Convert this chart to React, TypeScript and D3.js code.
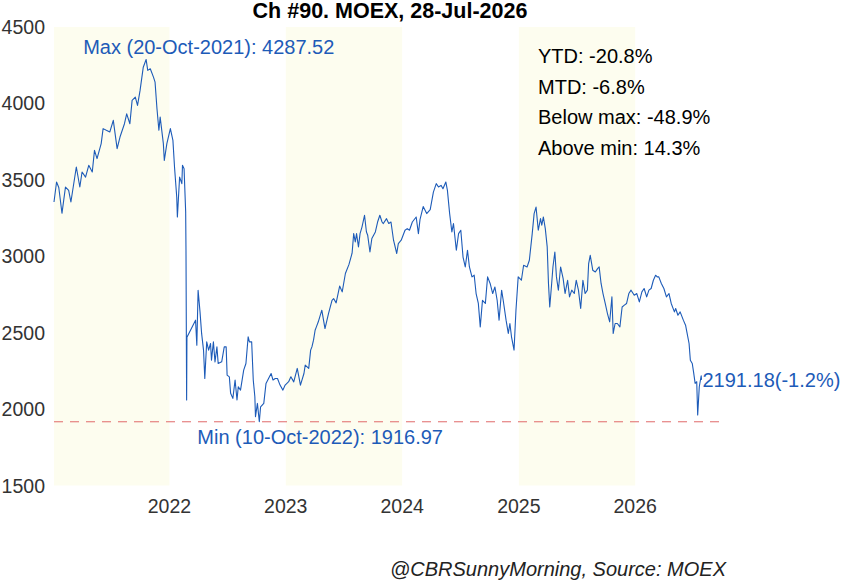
import React from "react";
import * as d3 from "d3";

const W = 841;
const H = 583;

const title = "Ch #90. MOEX, 28-Jul-2026";
const source = "@CBRSunnyMorning, Source: MOEX";
const statsLines = ["YTD: -20.8%", "MTD: -6.8%", "Below max: -48.9%", "Above min: 14.3%"];
const yTicks = [1500, 2000, 2500, 3000, 3500, 4000, 4500];
const xTickYears = [2022, 2023, 2024, 2025, 2026];
const shadedYears = [2021, 2023, 2025];

const maxDate = "2021-10-20";
const maxValue = 4287.52;
const minDate = "2022-10-10";
const minValue = 1916.97;
const lastChangePct = -1.2;

const dates = [
  "2021-01-04","2021-01-12","2021-01-19","2021-01-29","2021-02-09","2021-02-19","2021-02-26","2021-03-15","2021-03-26","2021-04-02",
  "2021-04-13","2021-04-23","2021-05-04","2021-05-11","2021-05-19","2021-06-01","2021-06-07","2021-06-17","2021-06-28","2021-07-09",
  "2021-07-21","2021-07-30","2021-08-13","2021-08-20","2021-08-30","2021-09-06","2021-09-16","2021-09-23","2021-10-01","2021-10-11",
  "2021-10-20","2021-10-25","2021-11-02","2021-11-12","2021-11-17","2021-11-23","2021-11-29","2021-12-03","2021-12-13","2021-12-16",
  "2021-12-24","2022-01-04","2022-01-12","2022-01-17","2022-01-24","2022-01-26","2022-02-02","2022-02-09","2022-02-11","2022-02-16",
  "2022-02-21","2022-02-22","2022-02-24","2022-02-25","2022-03-24","2022-03-28","2022-04-01","2022-04-07","2022-04-12","2022-04-18",
  "2022-04-22","2022-04-28","2022-05-04","2022-05-10","2022-05-13","2022-05-19","2022-05-24","2022-05-30","2022-06-03","2022-06-14",
  "2022-06-22","2022-06-28","2022-07-01","2022-07-08","2022-07-12","2022-07-19","2022-07-26","2022-08-01","2022-08-05","2022-08-12",
  "2022-08-22","2022-08-29","2022-09-05","2022-09-09","2022-09-16","2022-09-21","2022-09-26","2022-09-28","2022-10-04","2022-10-10",
  "2022-10-14","2022-10-24","2022-10-31","2022-11-08","2022-11-16","2022-11-22","2022-11-29","2022-12-06","2022-12-14","2022-12-23",
  "2022-12-30","2023-01-10","2023-01-17","2023-01-26","2023-02-06","2023-02-16","2023-02-27","2023-03-03","2023-03-14","2023-03-20",
  "2023-03-24","2023-03-29","2023-04-03","2023-04-07","2023-04-13","2023-04-24","2023-05-04","2023-05-15","2023-05-26","2023-05-31",
  "2023-06-08","2023-06-19","2023-06-27","2023-07-07","2023-07-18","2023-07-28","2023-08-02","2023-08-07","2023-08-11","2023-08-17",
  "2023-08-22","2023-08-28","2023-09-05","2023-09-11","2023-09-15","2023-09-22","2023-09-28","2023-10-09","2023-10-16","2023-10-23",
  "2023-10-30","2023-11-03","2023-11-13","2023-11-20","2023-11-27","2023-12-05","2023-12-15","2023-12-20","2023-12-29","2024-01-10",
  "2024-01-17","2024-01-24","2024-02-02","2024-02-14","2024-02-21","2024-02-26","2024-03-07","2024-03-18","2024-03-29","2024-04-08",
  "2024-04-17","2024-04-24","2024-05-02","2024-05-08","2024-05-17","2024-05-22","2024-05-29","2024-06-05","2024-06-10","2024-06-19",
  "2024-06-26","2024-07-03","2024-07-10","2024-07-17","2024-07-24","2024-07-30","2024-08-07","2024-08-14","2024-08-20","2024-08-27",
  "2024-09-02","2024-09-09","2024-09-18","2024-09-25","2024-10-03","2024-10-11","2024-10-18","2024-10-25","2024-10-31","2024-11-08",
  "2024-11-13","2024-11-22","2024-11-29","2024-12-04","2024-12-09","2024-12-17","2024-12-23","2024-12-30","2025-01-09","2025-01-16",
  "2025-01-27","2025-02-03","2025-02-12","2025-02-18","2025-02-24","2025-03-03","2025-03-10","2025-03-14","2025-03-19","2025-03-25",
  "2025-03-31","2025-04-04","2025-04-08","2025-04-14","2025-04-18","2025-04-24","2025-04-29","2025-05-05","2025-05-12","2025-05-20",
  "2025-05-26","2025-06-03","2025-06-09","2025-06-16","2025-06-24","2025-06-30","2025-07-07","2025-07-14","2025-07-21","2025-07-28",
  "2025-08-04","2025-08-08","2025-08-13","2025-08-21","2025-08-29","2025-09-05","2025-09-10","2025-09-16","2025-09-22","2025-09-29",
  "2025-10-06","2025-10-13","2025-10-20","2025-10-24","2025-10-30","2025-11-06","2025-11-14","2025-11-21","2025-11-28","2025-12-05",
  "2025-12-12","2025-12-19","2025-12-29","2026-01-06","2026-01-14","2026-01-22","2026-01-29","2026-02-06","2026-02-13","2026-02-20",
  "2026-02-27","2026-03-06","2026-03-11","2026-03-16","2026-03-24","2026-04-01","2026-04-09","2026-04-17","2026-04-24","2026-05-04",
  "2026-05-08","2026-05-15","2026-05-22","2026-06-01","2026-06-08","2026-06-12","2026-06-19","2026-06-23","2026-06-29","2026-07-03",
  "2026-07-08","2026-07-13","2026-07-16","2026-07-21","2026-07-27","2026-07-28"
];

const values = [
  3355,3486,3450,3281,3453,3431,3355,3584,3453,3551,
  3518,3595,3551,3693,3639,3737,3835,3824,3813,3889,
  3704,3780,3867,3932,3867,4020,4041,3987,4085,4237,
  4287.52,4216,4227,4172,4139,3965,3824,3910,3737,3627,
  3737,3835,3758,3584,3388,3257,3518,3475,3595,3573,
  3290,3039,2059,2470,2582,2418,2778,2636,2495,2386,
  2200,2440,2386,2429,2320,2440,2309,2407,2298,2309,
  2407,2407,2222,2211,2103,2070,2190,2059,2146,2124,
  2255,2298,2473,2440,2440,2190,2081,1950,2037,1916.97,
  2015,2037,2168,2200,2233,2190,2200,2200,2157,2124,
  2157,2179,2211,2178,2266,2157,2233,2288,2266,2386,
  2407,2451,2516,2538,2571,2647,2527,2625,2712,2723,
  2695,2805,2767,2887,2945,3020,3148,3094,3148,3061,
  3148,3191,3268,3159,3137,3028,3116,3159,3224,3268,
  3224,3214,3246,3214,3224,3105,3018,3083,3105,3170,
  3181,3170,3224,3257,3148,3240,3325,3279,3305,3420,
  3475,3453,3464,3442,3486,3431,3279,3159,3214,3039,
  3148,3170,2995,2930,3039,2930,2865,2876,2756,2691,
  2538,2712,2691,2865,2822,2756,2799,2712,2582,2778,
  2712,2582,2495,2560,2473,2386,2647,2865,2843,2941,
  2930,2974,3148,3279,3322,3170,3246,3203,3257,3181,
  3061,2822,2668,2822,2930,3028,2865,2778,2930,2854,
  2756,2843,2734,2778,2756,2843,2778,2658,2843,2756,
  2778,2952,3006,2908,2897,2919,2930,2822,2756,2691,
  2625,2571,2734,2495,2560,2560,2538,2668,2680,2691,
  2756,2778,2745,2756,2701,2767,2789,2734,2778,2789,
  2843,2876,2865,2865,2822,2789,2734,2756,2691,2636,
  2658,2614,2636,2582,2549,2505,2429,2320,2298,2244,
  2168,2179,1961,2146,2218,2191.18
];

const FONT = "'Liberation Sans', Arial, Helvetica, sans-serif";
const BLUE = "#1d5bb8";

export default function App() {
  const parse = d3.utcParse("%Y-%m-%d");
  const data = dates.map((d, i) => ({ date: parse(d) as Date, value: values[i] }));

  const x = d3
    .scaleUtc()
    .domain([parse("2021-01-04") as Date, parse("2026-09-24") as Date])
    .range([54, 720]);
  const y = d3.scaleLinear().domain([1500, 4500]).range([485.5, 27]);

  const line = d3
    .line<{ date: Date; value: number }>()
    .x((d) => x(d.date))
    .y((d) => y(d.value));

  const last = data[data.length - 1];
  const mx = x(parse(maxDate) as Date);
  const my = y(maxValue);
  const mnx = x(parse(minDate) as Date);
  const mny = y(minValue);

  const [x0, x1] = x.range();

  return (
    <svg
      width={W}
      height={H}
      style={{ position: "absolute", left: 0, top: 0, background: "#fff" }}
      fontFamily={FONT}
    >
      <rect x={0} y={0} width={W} height={H} fill="#fff" />
      {shadedYears.map((yr) => {
        const a = Math.max(x(new Date(Date.UTC(yr, 0, 1))), x0);
        const b = Math.min(x(new Date(Date.UTC(yr + 1, 0, 1))), x1);
        return (
          <rect
            key={yr}
            x={a}
            y={y(4500)}
            width={b - a}
            height={y(1500) - y(4500)}
            fill="#fdfdef"
          />
        );
      })}

      <line
        x1={x0}
        x2={x1}
        y1={mny}
        y2={mny}
        stroke="#e06a6a"
        strokeWidth={1}
        strokeDasharray="9,7"
      />

      <path d={line(data) || ""} fill="none" stroke={BLUE} strokeWidth={1.1} strokeLinejoin="round" />

      {yTicks.map((t) => (
        <text
          key={t}
          x={45}
          y={y(t)}
          textAnchor="end"
          dominantBaseline="central"
          fontSize={19.5}
          fill="#333"
        >
          {t}
        </text>
      ))}
      {xTickYears.map((yr) => (
        <text
          key={yr}
          x={x(new Date(Date.UTC(yr, 0, 1)))}
          y={513}
          textAnchor="middle"
          fontSize={19.5}
          fill="#333"
        >
          {yr}
        </text>
      ))}

      <text x={(x0 + x1) / 2 + 3} y={18} textAnchor="middle" fontSize={21.5} fontWeight="bold" fill="#000">
        {title}
      </text>

      <text x={mx - 63} y={my - 5} fontSize={20} fill={BLUE}>
        {`Max (20-Oct-2021): ${maxValue.toFixed(2)}`}
      </text>
      <text x={mnx - 62} y={mny + 22} fontSize={20} fill={BLUE}>
        {`Min (10-Oct-2022): ${minValue.toFixed(2)}`}
      </text>
      <text x={x(last.date) + 1} y={y(last.value)} dominantBaseline="central" fontSize={20} fill={BLUE}>
        {`${last.value.toFixed(2)}(${lastChangePct.toFixed(1)}%)`}
      </text>

      {statsLines.map((s, i) => (
        <text key={s} x={538} y={63 + i * 30.7} fontSize={20} fill="#000">
          {s}
        </text>
      ))}

      <text x={726} y={576} textAnchor="end" fontSize={20} fontStyle="italic" fill="#222">
        {source}
      </text>
    </svg>
  );
}
